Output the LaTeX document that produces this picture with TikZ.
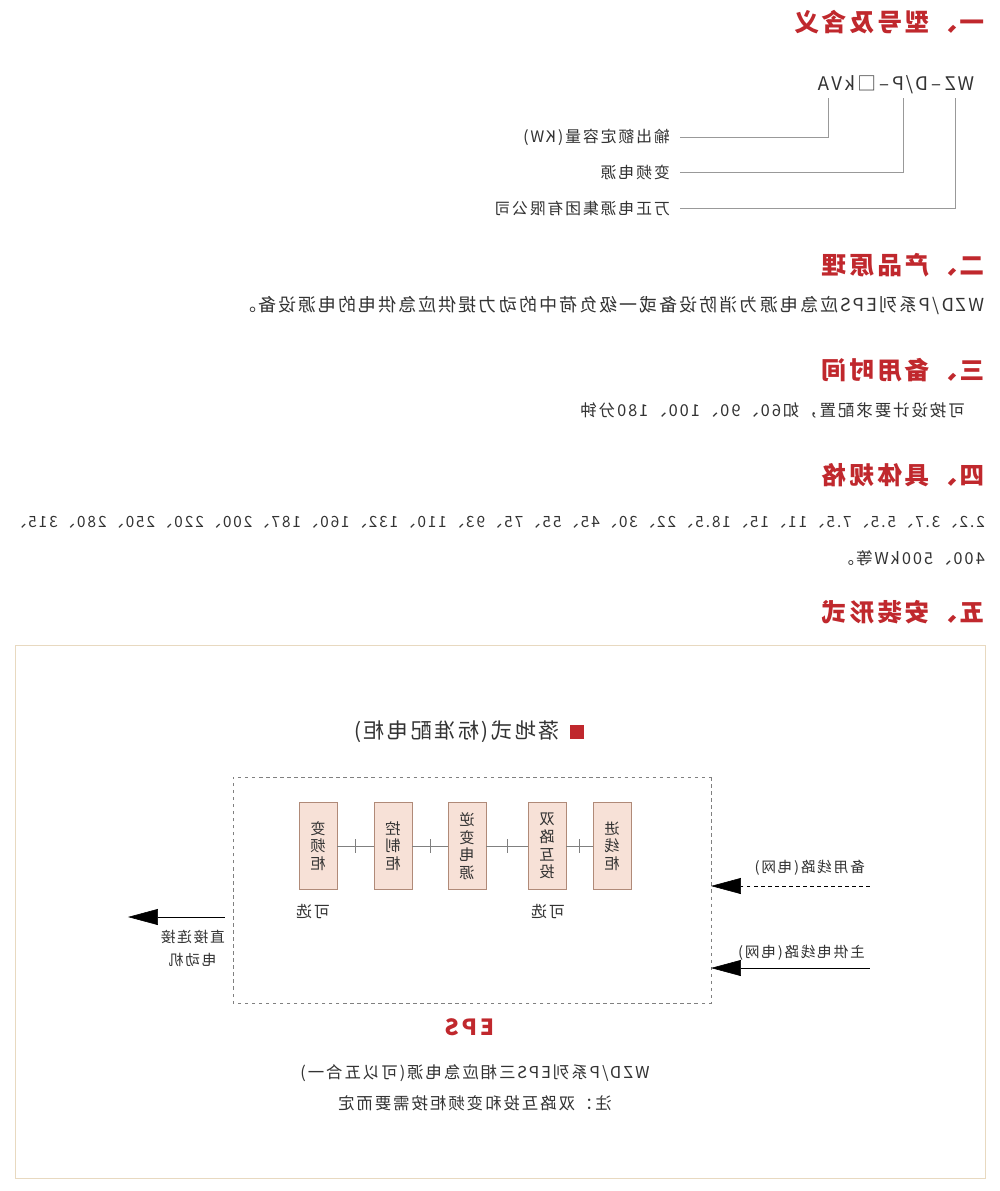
\documentclass[tikz,border=0pt]{standalone}
\usepackage{fontspec}
\setmainfont[LetterSpace=12]{Noto Sans CJK SC}
\usetikzlibrary{arrows.meta,calc}
\definecolor{hred}{HTML}{C0282D}
\definecolor{cabfill}{HTML}{F7E1D7}
\definecolor{cabdraw}{HTML}{B08A78}
\definecolor{tan}{HTML}{E8D9C0}
\definecolor{txt}{HTML}{333333}
\begin{document}
\begin{tikzpicture}[x=0.03cm,y=-0.03cm,xscale=-1,transform shape,
  head/.style={anchor=west,font=\fontsize{21}{22}\selectfont\bfseries,text=hred,inner sep=0},
  body/.style={anchor=west,font=\fontsize{14}{15}\selectfont,text=txt,inner sep=0},
  small/.style={font=\fontsize{13.5}{15}\selectfont,text=txt,inner sep=0},
  cab/.style={draw=cabdraw,fill=cabfill,minimum width=38*0.03cm,minimum height=87*0.03cm,inner sep=0,font=\fontsize{13}{15}\selectfont,text=txt,align=center},
  gline/.style={draw=gray!80,line width=0.6pt},
  bigarrow/.style={-{Triangle[length=30*0.03cm,width=16*0.03cm]},black,line width=0.5pt}]
\useasboundingbox[fill=white] (0,0) rectangle (1000,1191);
% section 1
\node[head] (h1) at (15,22) {一、型号及含义};
\node[body,font=\fontsize{16}{16}\selectfont] (model) at (25,85) {WZ\,–\,D/P\,–\,□kVA};
\node[small,anchor=west] (l1) at (330,137) {输出额定容量(KW)};
\node[small,anchor=west] (l2) at (330,172) {变频电源};
\node[small,anchor=west] (l3) at (330,208) {万正电源集团有限公司};
\coordinate (v1) at (45,98); \coordinate (v2) at (97,98); \coordinate (v3) at (172,98);
\draw[gline] (v1) |- (l3.west -| 320,0);
\draw[gline] (v2) |- (l2.west -| 320,0);
\draw[gline] (v3) |- (l1.west -| 320,0);
% section 2
\node[head] (h2) at (15,265) {二、产品原理};
\node[body,font=\fontsize{15.3}{16}\selectfont] (t2) at (15,305) {WZD/P系列EPS应急电源为消防设备或一级负荷中的动力提供应急供电的电源设备。};
% section 3
\node[head] (h3) at (15,370) {三、备用时间};
\node[body] (t3) at (35,410) {可按设计要求配置，如60、90、100、180分钟};
% section 4
\node[head] (h4) at (15,475) {四、具体规格};
\node[body,font=\fontsize{13.2}{14}\selectfont] (t4) at (15,522) {2.2、3.7、5.5、7.5、11、15、18.5、22、30、45、55、75、93、110、132、160、187、200、220、250、280、315、};
\node[body] (t4b) at (15,558) {400、500kW等。};
% section 5
\node[head] (h5) at (15,612) {五、安装形式};
\draw[tan,line width=0.8pt] (15,645) rectangle (985,1178);
\fill[hred] (416,725) rectangle (430,739);
\node[body,font=\fontsize{18}{20}\selectfont] (floor) at (440,732) {落地式(标准配电柜)};
\draw[gray,dashed,line width=0.6pt] (289,777) rectangle (767,1003);
\node[cab] (c1) at (388,846) {进\\线\\柜};
\node[cab] (c2) at (453,846) {双\\路\\互\\投};
\node[cab] (c3) at (533,846) {逆\\变\\电\\源};
\node[cab] (c4) at (607,846) {控\\制\\柜};
\node[cab] (c5) at (682,846) {变\\频\\柜};
\foreach \a/\b in {c1/c2,c2/c3,c3/c4,c4/c5}{
  \draw[gray] (\a.east) -- (\b.west);
  \path (\a.east) -- (\b.west) coordinate[pos=0.5] (m\a);
  \draw[gray] ($(m\a)+(0,-7)$) -- ($(m\a)+(0,7)$);
}
\node[small] (o1) at (452,912) {可选};
\node[small] (o2) at (687,912) {可选};
\coordinate (s1) at (130,886); \coordinate (e1) at (289,886);
\coordinate (s2) at (130,968); \coordinate (e2) at (289,968);
\draw[bigarrow,dashed] (s1) -- (e1);
\draw[bigarrow] (s2) -- (e2);
\node[small,anchor=west,font=\fontsize{12.5}{14}\selectfont] (a1) at (135,868) {备用线路(电网)};
\node[small,anchor=west,font=\fontsize{12.5}{14}\selectfont] (a2) at (135,953) {主供电线路(电网)};
\coordinate (s3) at (775,917); \coordinate (e3) at (872,917);
\draw[bigarrow] (s3) -- (e3);
\node[small,align=center,anchor=north west,font=\fontsize{12.5}{20}\selectfont] (mot) at (775,930) {直接连接\\电动机};
\node[font=\fontsize{19}{20}\selectfont\bfseries,text=hred,inner sep=0] (eps) at (530,1027) {EPS};
\node[small,font=\fontsize{14}{15}\selectfont] (n1) at (525,1073) {WZD/P系列EPS三相应急电源(可以五合一)};
\node[small,font=\fontsize{14}{15}\selectfont] (n2) at (525,1103) {注：双路互投和变频柜按需要而定};
\end{tikzpicture}
\end{document}
